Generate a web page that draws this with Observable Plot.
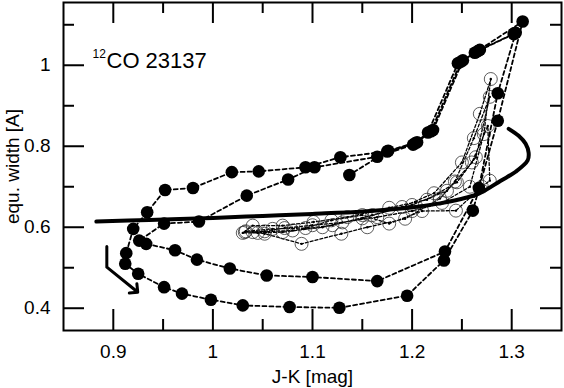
<!DOCTYPE html>
<html><head><meta charset="utf-8">
<script src="https://cdn.jsdelivr.net/npm/d3@7"></script>
<script src="https://cdn.jsdelivr.net/npm/@observablehq/plot@0.6"></script>
<style>
body{margin:0;background:#fff}
svg{font-family:"Liberation Sans",Arial,Helvetica,sans-serif}
</style>
</head><body><div id="chart"></div>
<script>
// Dynamic model (filled circles), in time order
const dynJK = [1.302,1.266,1.249,1.219,1.203,1.175,1.128,1.093,1.046,1.019,0.980,0.952,0.934,0.920,0.913,0.912,0.925,0.951,0.969,0.998,1.030,1.077,1.127,1.195,1.232,1.261,1.286,1.311,1.263,1.246,1.216,1.201,1.165,1.102,1.0755,1.034,0.986,0.951,0.926,0.933,0.962,0.984,1.017,1.054,1.100,1.165,1.233,1.267,1.286,1.304,1.268,1.251,1.221,1.205,1.176,1.137];
const dynEW = [1.077,1.035,1.009,0.837,0.807,0.787,0.773,0.748,0.738,0.736,0.697,0.692,0.637,0.596,0.536,0.510,0.485,0.452,0.436,0.421,0.407,0.403,0.401,0.431,0.518,0.641,0.863,1.108,1.031,1.005,0.834,0.804,0.774,0.748,0.718,0.678,0.614,0.609,0.567,0.559,0.543,0.520,0.498,0.481,0.477,0.467,0.540,0.697,0.931,1.080,1.038,1.012,0.840,0.810,0.789,0.729];

// Second model (open circles), in time order
const modJK = [1.032,1.052,1.072,1.100,1.130,1.165,1.200,1.230,1.258,1.272,1.279,1.268,1.250,1.222,1.190,1.150,1.110,1.070,1.045,
               1.030,1.040,1.070,1.101,1.135,1.177,1.215,1.245,1.264,1.278,1.262,1.243,1.228,1.193,1.155,1.129,1.089,1.052,
               1.033,1.060,1.093,1.119,1.150,1.177,1.210,1.244,1.270,1.278,1.276,1.260,1.235,1.200,1.160,1.120,1.080,1.040];
const modEW = [0.588,0.590,0.598,0.605,0.612,0.625,0.640,0.660,0.700,0.830,0.966,0.880,0.760,0.684,0.650,0.622,0.600,0.588,0.586,
               0.586,0.604,0.604,0.613,0.625,0.648,0.668,0.711,0.773,0.922,0.820,0.713,0.671,0.621,0.600,0.584,0.559,0.584,
               0.590,0.596,0.598,0.617,0.630,0.609,0.640,0.641,0.700,0.715,0.850,0.760,0.690,0.655,0.630,0.605,0.592,0.588];

// Hydrostatic sequence (thick solid line)
const hydJK = [0.883,0.936,1.000,1.050,1.100,1.151,1.199,1.228,1.248,1.267,1.289,1.304,1.316,1.317,1.314,1.307,1.297];
const hydEW = [0.614,0.618,0.623,0.628,0.633,0.639,0.649,0.659,0.669,0.683,0.715,0.737,0.765,0.784,0.806,0.826,0.843];

// Direction arrow
const arrowJK = [0.8935,0.8935,0.9222];
const arrowEW = [0.5527,0.5015,0.4443];

// Axes
const xMajor = [0.9,1.0,1.1,1.2,1.3];
const xMinor = [0.95,1.05,1.15,1.25];
const yMajor = [0.4,0.6,0.8,1.0];
const yMinor = [0.5,0.7,0.9,1.1];
const xDomain = [0.85,1.35];
const yDomain = [0.345,1.155];
const xLabel = "J-K [mag]";
const yLabel = "equ. width [A]";
const titleSup = "12";
const titleMain = "CO 23137";

const W = 564, H = 388, mL = 63, mR = 3, mT = 2, mB = 58;
const pH = H - mT - mB, pW = W - mL - mR;
const majL = 21, minL = 11;

const dyn = dynJK.map((x,i)=>({x, y: dynEW[i]}));
const mod = modJK.map((x,i)=>({x, y: modEW[i]}));
const hyd = hydJK.map((x,i)=>({x, y: hydEW[i]}));
const arr = arrowJK.map((x,i)=>({x, y: arrowEW[i]}));
const fmt = d => String(+d.toFixed(1));

const plot = Plot.plot({
  width: W, height: H,
  marginLeft: mL, marginRight: mR, marginTop: mT, marginBottom: mB,
  x: {domain: xDomain},
  y: {domain: yDomain},
  style: {fontFamily: '"Liberation Sans",Arial,Helvetica,sans-serif', background: "#fff"},
  marks: [
    // ticks (inward, all four sides)
    Plot.ruleX(xMajor, {x: d=>d, insetTop: pH - majL, strokeWidth: 2}),
    Plot.ruleX(xMajor, {x: d=>d, insetBottom: pH - majL, strokeWidth: 2}),
    Plot.ruleX(xMinor, {x: d=>d, insetTop: pH - minL, strokeWidth: 2}),
    Plot.ruleX(xMinor, {x: d=>d, insetBottom: pH - minL, strokeWidth: 2}),
    Plot.ruleY(yMajor, {y: d=>d, insetRight: pW - majL, strokeWidth: 2}),
    Plot.ruleY(yMajor, {y: d=>d, insetLeft: pW - majL, strokeWidth: 2}),
    Plot.ruleY(yMinor, {y: d=>d, insetRight: pW - minL, strokeWidth: 2}),
    Plot.ruleY(yMinor, {y: d=>d, insetLeft: pW - minL, strokeWidth: 2}),
    Plot.axisX(xMajor, {tickSize: 0, tickPadding: 14, tickFormat: fmt, fontSize: 19, label: null}),
    Plot.axisY(yMajor, {tickSize: 0, tickPadding: 13, tickFormat: fmt, fontSize: 19, label: null}),
    // second model
    Plot.line(mod, {x: "x", y: "y", stroke: "#000", strokeWidth: 1.3, strokeDasharray: "3,2"}),
    Plot.dot(mod, {x: "x", y: "y", r: 6.5, stroke: "#333", strokeWidth: 0.8, fill: "none"}),
    Plot.dot(mod, {x: "x", y: "y", r: 1.2, fill: "#000"}),
    // hydrostatic
    Plot.line(hyd, {x: "x", y: "y", stroke: "#000", strokeWidth: 4, curve: "catmull-rom"}),
    // dynamic model
    Plot.line(dyn, {x: "x", y: "y", stroke: "#000", strokeWidth: 1.8, strokeDasharray: "4,3"}),
    Plot.dot(dyn, {x: "x", y: "y", r: 6.3, fill: "#000"}),
    // arrow
    Plot.line(arr, {x: "x", y: "y", stroke: "#000", strokeWidth: 3, markerEnd: "arrow"}),
    // labels
    Plot.text([titleSup], {frameAnchor: "top-left", dx: 29, dy: 55, fontSize: 12, textAnchor: "start", lineAnchor: "bottom"}),
    Plot.text([titleMain], {frameAnchor: "top-left", dx: 43, dy: 65, fontSize: 22, textAnchor: "start", lineAnchor: "bottom"}),
    Plot.text([xLabel], {frameAnchor: "bottom", dy: 52, fontSize: 19}),
    Plot.text([yLabel], {frameAnchor: "left", dx: -51, rotate: -90, textAnchor: "middle", fontSize: 19}),
    Plot.frame({strokeWidth: 2})
  ]
});
document.getElementById("chart").appendChild(plot);
</script>
</body></html>
